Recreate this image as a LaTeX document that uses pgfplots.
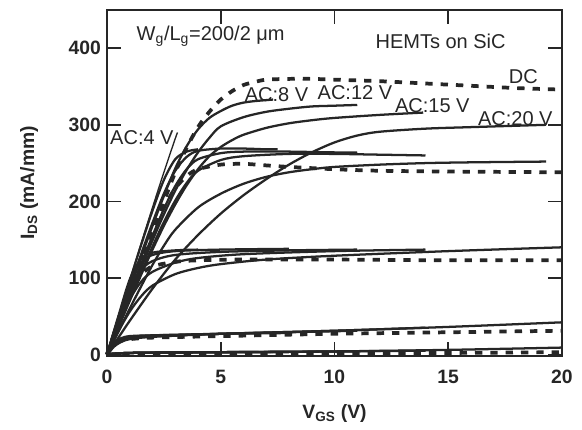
\documentclass[border=0pt]{standalone}
\usepackage{pgfplots}
\pgfplotsset{compat=1.18}
\usepackage{fontspec}
\setmainfont{Liberation Sans}
\definecolor{ink}{HTML}{262626}
\tikzset{
  sol/.style={ink, solid, line width=1.7pt, smooth, tension=0.5, mark=none},
  dc/.style={ink, line width=2.8pt, dash pattern=on 5.5pt off 6pt, smooth, tension=0.5, mark=none},
}
\begin{document}
\begin{tikzpicture}[x=1pt,y=1pt]
\begin{axis}[
  name=ax,
  at={(0pt,0pt)}, anchor=south west,
  scale only axis,
  width=341.25pt, height=259.5pt,
  xmin=0, xmax=20, ymin=-2, ymax=450,
  xtick={0,5,10,15,20}, ytick={0,100,200,300,400},
  tick align=inside,
  major tick length=10.5pt,
  every tick/.style={ink, line width=1.2pt},
  axis line style={ink, line width=1.5pt},
  /pgf/number format/assume math mode=true,
  tick label style={font=\fontsize{14.5}{16}\selectfont\bfseries, text=ink},
  xticklabel style={yshift=-7pt},
  yticklabel style={xshift=-1pt},
  xlabel={V\textsubscript{GS} (V)},
  ylabel={I\textsubscript{DS} (mA/mm)},
  label style={font=\fontsize{14.5}{16}\selectfont\bfseries, text=ink},
  xlabel style={yshift=-9pt},
  ylabel style={yshift=16pt},
  clip=false,
]
% ===== Level 1 =====
\addplot[dc] coordinates {(0,0)(0.5,40)(1,82)(1.5,122)(2,162)(2.5,200)(3,238)(3.5,270)(4,297)(4.5,317)(5,333)(5.5,344)(6,352)(6.5,356)(7,359)(8,360)(9,360)(10,359)(12,357)(14,354)(16,351)(18,348)(20,346)};
\addplot[sol, line width=1pt] coordinates {(0,0)(0.5,48)(1,97)(1.5,145)(2,192)(2.5,238)(3,282)(3.1,290)};
\addplot[sol] coordinates {(0,0)(0.5,42)(1,85)(1.5,127)(2,168)(2.5,207)(3,243)(3.5,272)(4,294)(4.5,309)(5,318)(5.5,325)(6,329)(6.5,331)(7.3,333)};
\addplot[sol] coordinates {(0,0)(0.5,38)(1,76)(1.5,113)(2,149)(2.5,183)(3,214)(3.5,241)(4,264)(4.5,283)(5,298)(6,310)(7,317)(8,321)(9,324)(10,325)(11,326)};
\addplot[sol] coordinates {(0,0)(0.5,35)(1,70)(1.5,104)(2,137)(2.5,168)(3,196)(3.5,221)(4,242)(4.5,259)(5,271)(5.5,280)(6,287)(7,296)(8,302)(9,306)(10,309)(12,313)(13.9,316)};
\addplot[sol] coordinates {(0,0)(0.5,22)(1,44)(2,86)(3,124)(4,156)(5,184)(6,208)(7,229)(8,248)(9,264)(10,277)(11,286)(12,291)(14,295)(16,297)(19.3,300)};
% ===== Level 2 =====
\addplot[dc] coordinates {(0,0)(0.5,40)(1,80)(1.5,120)(2,158)(2.5,192)(3,217)(3.5,233)(4,242)(5,248)(6,249)(7,247)(8,245)(10,242)(12,240)(15,239)(20,238)};
\addplot[sol] coordinates {(0,0)(0.5,48)(1,96)(1.5,143)(2,188)(2.5,228)(3,255)(3.5,265)(4,268)};
\addplot[sol] coordinates {(0,0)(0.5,44)(1,88)(1.5,131)(2,172)(2.5,210)(3,240)(3.5,258)(4,266)(5,269)(6,269)(7,268)(7.5,268)};
\addplot[sol] coordinates {(0,0)(0.5,40)(1,80)(1.5,118)(2,155)(2.5,190)(3,220)(3.5,242)(4,255)(5,263)(6,265)(8,265)(10,264)(11,264)};
\addplot[sol] coordinates {(0,0)(0.5,36)(1,72)(1.5,107)(2,141)(2.5,173)(3,201)(3.5,224)(4,240)(5,254)(6,259)(8,262)(10,262)(12,261)(14,260)};
\addplot[sol] coordinates {(0,0)(0.5,30)(1,60)(1.5,89)(2,117)(2.5,142)(3,163)(4,192)(5,210)(6,223)(7,232)(8,238)(9,242)(10,245)(12,248)(14,250)(16,251)(19.3,252)};
% ===== Level 3 =====
\addplot[dc] coordinates {(0,0)(0.5,42)(1,80)(1.5,104)(2,115)(3,121)(4,123)(6,124)(10,124)(15,123)(20,123)};
\addplot[sol] coordinates {(0,0)(0.5,50)(1,98)(1.5,125)(2,133)(3,136)(4,137)};
\addplot[sol] coordinates {(0,0)(0.5,48)(1,92)(1.5,120)(2,130)(3,135)(5,137)(8,138)};
\addplot[sol] coordinates {(0,0)(0.5,44)(1,84)(1.5,110)(2,122)(3,130)(5,134)(8,136)(11,137)};
\addplot[sol] coordinates {(0,0)(0.5,38)(1,72)(1.5,95)(2,108)(3,120)(4,126)(6,131)(10,135)(14,137)};
\addplot[sol] coordinates {(0,0)(0.5,30)(1,56)(1.5,76)(2,90)(3,105)(4,113)(5,118)(7,124)(10,129)(15,135)(20,140)};
% ===== Level 4 =====
\addplot[dc] coordinates {(0,0)(0.3,12)(0.6,18)(1,20)(2,22)(5,24)(10,27)(15,29)(20,31)};
\addplot[sol] coordinates {(0,0)(0.3,15)(0.6,21)(1,24)(2,25)(4,26)};
\addplot[sol] coordinates {(0,0)(0.3,14)(0.6,20)(1,23)(2,25)(5,27)(8,28)};
\addplot[sol] coordinates {(0,0)(0.3,13)(0.6,19)(1,22)(2,24)(5,27)(8,29)(11,31)};
\addplot[sol] coordinates {(0,0)(0.3,12)(0.6,18)(1,21)(2,24)(5,27)(10,31)(14,35)};
\addplot[sol] coordinates {(0,0)(0.3,10)(0.6,16)(1,20)(2,23)(5,27)(10,31)(15,36)(20,42)};
% ===== Level 5 =====
\addplot[dc] coordinates {(0,0)(5,1)(10,2)(15,2)(20,3)};
\addplot[sol] coordinates {(0,0)(1,2)(4,3)};
\addplot[sol] coordinates {(0,0)(1,2)(5,3)(8,3)};
\addplot[sol] coordinates {(0,0)(1,2)(5,3)(11,4)};
\addplot[sol] coordinates {(0,0)(1,2)(5,3)(10,4)(14,5)};
\addplot[sol] coordinates {(0,0)(1,2)(5,3)(10,4)(15,6)(20,9)};
% ===== Annotations =====
\node[anchor=west, font=\fontsize{15}{17}\selectfont, text=ink] at (axis cs:1.1,416) {W\textsubscript{g}/L\textsubscript{g}=200/2 μm};
\node[anchor=west, font=\fontsize{15}{17}\selectfont, text=ink] at (axis cs:11.6,409) {HEMTs on SiC};
\node[font=\fontsize{15}{17}\selectfont, text=ink] at (axis cs:18.3,363) {DC};
\node[anchor=west, inner sep=0pt, font=\fontsize{15}{17}\selectfont, text=ink] at (axis cs:6.05,340) {AC:8 V};
\node[anchor=west, inner sep=0pt, font=\fontsize{15}{17}\selectfont, text=ink] at (axis cs:9.25,342) {AC:12 V};
\node[anchor=west, inner sep=0pt, font=\fontsize{15}{17}\selectfont, text=ink] at (axis cs:12.65,325) {AC:15 V};
\node[anchor=west, inner sep=0pt, font=\fontsize{15}{17}\selectfont, text=ink] at (axis cs:16.3,308) {AC:20 V};
\node[anchor=west, inner sep=0pt, font=\fontsize{15}{17}\selectfont, text=ink] at (axis cs:0.13,283) {AC:4 V};
\end{axis}
\pgfresetboundingbox
\path (-80.25pt,-54.75pt) rectangle (356.25pt,267pt);
\end{tikzpicture}
\end{document}
